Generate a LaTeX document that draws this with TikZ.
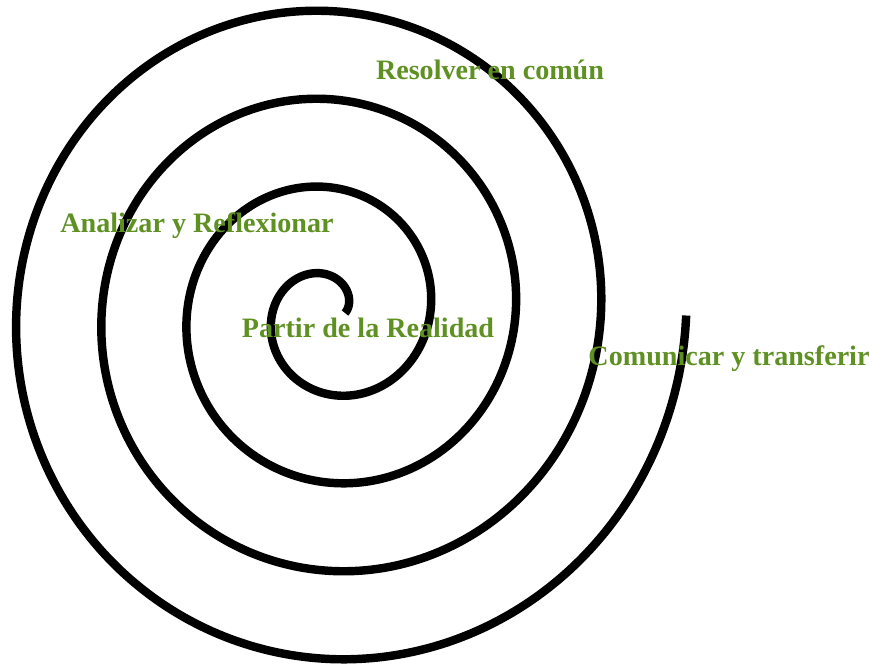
\documentclass[tikz,border=0pt]{standalone}
\usepackage{fontspec}
\setmainfont{Liberation Serif}
\usepackage{xcolor}
\usepackage{tikz}
\definecolor{leafgreen}{RGB}{94,144,34}

\begin{document}
\begin{tikzpicture}[
    x=0.02cm, y=-0.02cm,
    coil/.style={line width=4.8pt, line cap=butt, line join=round},
    lbl/.style={font=\fontsize{16}{19}\selectfont\bfseries, text=leafgreen, anchor=base, inner sep=0pt},
]
\useasboundingbox (0,0) rectangle (869,669);
% spiral, four turns out from the middle
\draw[coil] plot[domain=0:8*pi, samples=600, variable=\t, smooth]
    ({330+(15+13.58*\t)*cos(\t r)}, {313-1.033*(15+13.58*\t)*sin(\t r)});
% the steps
\node[lbl] (res) at (490, 80) {Resolver en común};
\node[lbl] (ana) at (197, 232) {Analizar y Reflexionar};
\node[lbl] (par) at (368, 337) {Partir de la Realidad};
\node[lbl] (com) at (729, 365) {Comunicar y transferir};
\end{tikzpicture}
\end{document}
